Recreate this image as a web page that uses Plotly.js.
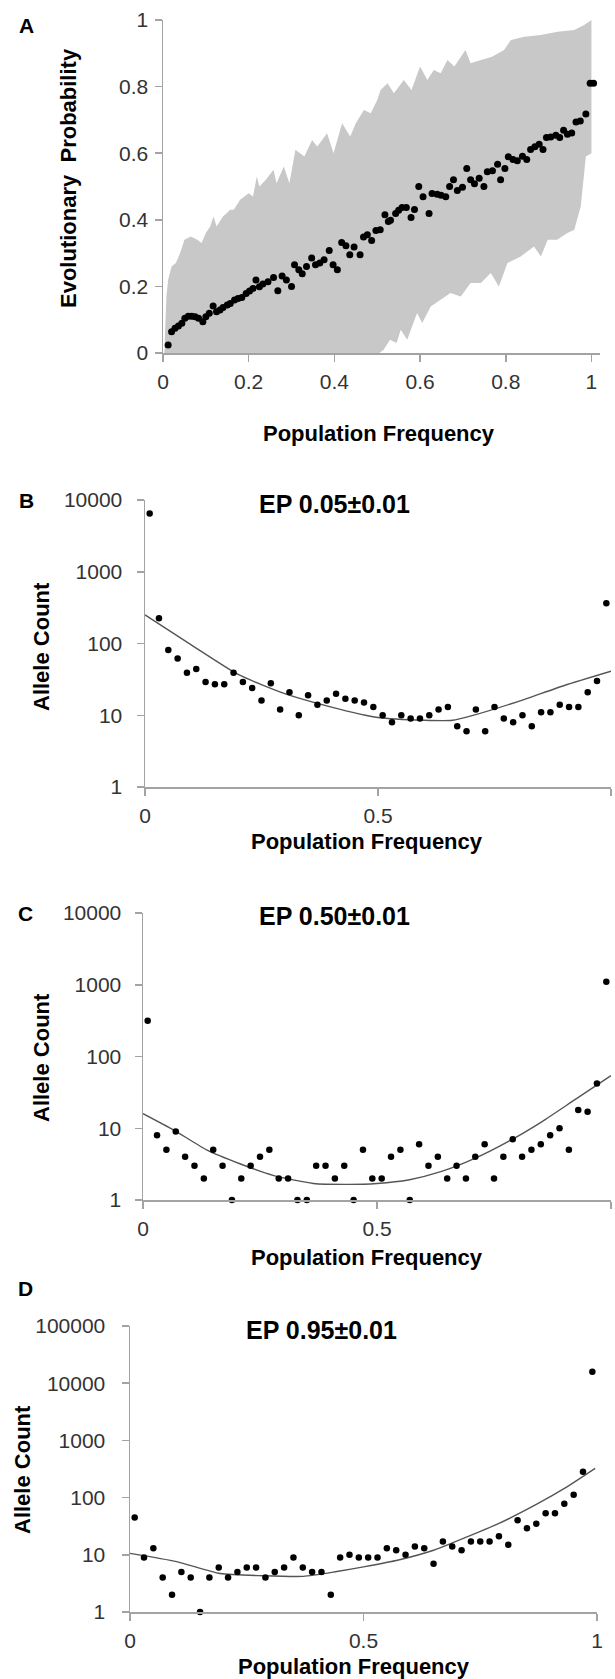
<!DOCTYPE html>
<html>
<head>
<meta charset="utf-8">
<script src="https://cdn.plot.ly/plotly-3.0.1.min.js"></script>
<style>html,body{margin:0;padding:0;background:#fff;}#chart{width:615px;height:1679px;}</style>
</head>
<body>
<div id="chart"></div>
<script>
// ---------- Panel A data ----------
const FREQ_A = [0.012,0.02,0.028,0.036,0.044,0.051,0.059,0.067,0.075,0.083,0.093,0.1,0.108,0.117,0.125,0.133,0.14,0.15,0.157,0.167,0.175,0.184,0.194,0.202,0.21,0.217,0.225,0.233,0.245,0.258,0.268,0.278,0.288,0.3,0.307,0.317,0.325,0.335,0.347,0.356,0.366,0.376,0.388,0.397,0.407,0.417,0.427,0.436,0.446,0.46,0.468,0.477,0.487,0.497,0.507,0.518,0.526,0.531,0.543,0.55,0.558,0.568,0.579,0.587,0.597,0.607,0.621,0.628,0.64,0.649,0.66,0.669,0.678,0.687,0.699,0.709,0.718,0.727,0.738,0.749,0.757,0.769,0.781,0.788,0.798,0.806,0.817,0.827,0.839,0.849,0.858,0.868,0.878,0.887,0.895,0.905,0.917,0.926,0.935,0.944,0.954,0.964,0.974,0.987,0.997,1.005];
const EP_A = [0.024,0.064,0.074,0.081,0.089,0.104,0.11,0.11,0.109,0.104,0.094,0.109,0.119,0.141,0.124,0.129,0.137,0.144,0.149,0.159,0.164,0.167,0.179,0.186,0.194,0.219,0.199,0.207,0.214,0.227,0.187,0.231,0.219,0.2,0.265,0.25,0.238,0.26,0.285,0.265,0.27,0.28,0.308,0.265,0.25,0.332,0.322,0.295,0.318,0.295,0.348,0.355,0.338,0.368,0.37,0.415,0.395,0.399,0.419,0.429,0.437,0.437,0.407,0.431,0.5,0.469,0.419,0.479,0.477,0.474,0.469,0.5,0.52,0.488,0.498,0.554,0.52,0.508,0.525,0.5,0.544,0.547,0.567,0.52,0.554,0.589,0.581,0.577,0.591,0.581,0.611,0.619,0.627,0.611,0.647,0.649,0.654,0.647,0.669,0.657,0.661,0.694,0.697,0.718,0.81,0.81];
const BAND_UP_X = [0.003,0.008,0.012,0.02,0.03,0.04,0.05,0.065,0.08,0.09,0.1,0.11,0.118,0.125,0.14,0.157,0.165,0.18,0.2,0.21,0.219,0.225,0.24,0.258,0.265,0.282,0.295,0.309,0.33,0.348,0.36,0.383,0.398,0.418,0.437,0.45,0.469,0.485,0.5,0.508,0.524,0.539,0.562,0.58,0.6,0.617,0.632,0.648,0.664,0.68,0.706,0.718,0.742,0.768,0.796,0.812,0.843,0.882,0.921,0.96,0.983,1.0];
const BAND_UP_Y = [0.0,0.17,0.22,0.26,0.27,0.3,0.34,0.35,0.34,0.33,0.36,0.38,0.41,0.38,0.41,0.43,0.43,0.46,0.48,0.47,0.53,0.5,0.52,0.55,0.51,0.56,0.51,0.61,0.59,0.64,0.62,0.66,0.6,0.69,0.65,0.69,0.73,0.72,0.76,0.79,0.81,0.78,0.82,0.79,0.86,0.82,0.85,0.84,0.88,0.86,0.91,0.87,0.88,0.89,0.91,0.94,0.95,0.955,0.965,0.97,0.985,1.0];
const BAND_LO_X = [1.0,1.0,0.987,0.975,0.96,0.944,0.92,0.898,0.882,0.866,0.835,0.804,0.784,0.765,0.742,0.718,0.695,0.671,0.648,0.625,0.605,0.593,0.57,0.555,0.545,0.53,0.515,0.505,0.003];
const BAND_LO_Y = [1.0,0.6,0.59,0.44,0.37,0.36,0.34,0.34,0.29,0.32,0.29,0.27,0.2,0.24,0.21,0.21,0.17,0.18,0.16,0.14,0.09,0.12,0.04,0.07,0.03,0.04,0.01,0.0,0.0];

// ---------- Panels B-D data ----------
const FREQ_BINS = [0.01,0.03,0.05,0.07,0.09,0.11,0.13,0.15,0.17,0.19,0.21,0.23,0.25,0.27,0.29,0.31,0.33,0.35,0.37,0.39,0.41,0.43,0.45,0.47,0.49,0.51,0.53,0.55,0.57,0.59,0.61,0.63,0.65,0.67,0.69,0.71,0.73,0.75,0.77,0.79,0.81,0.83,0.85,0.87,0.89,0.91,0.93,0.95,0.97,0.99];
const COUNT_B = [6500,224,81,62,39,44,29,27,27,39,29,24,16,28,12,21,10,19,14,16,20,17,16,15,13,10,8,10,9,9,10,12,13,7,6,12,6,13,9,8,10,7,11,11,14,13,13,21,30,363];
const COUNT_C = [316,8,5,9,4,3,2,5,3,1,2,3,4,5,2,2,1,1,3,3,2,3,1,5,2,2,4,5,1,6,3,4,2,3,2,4,6,2,4,7,4,5,6,8,10,5,18,17,42,1100];
const COUNT_D = [45,9,13,4,2,5,4,1,4,6,4,5,6,6,4,5,6,9,6,5,5,2,9,10,9,9,9,13,12,10,14,13,7,17,14,12,17,17,17,21,15,40,29,35,53,53,78,112,283,15800];

const FIT_B_X = [0,0.1,0.2,0.3,0.4,0.5,0.6,0.66,0.7,0.8,0.9,1.0];
const FIT_B_Y = [250,95,37,20,13,9.3,8.5,8.5,9.8,15.5,26,41];
const FIT_C_X = [0,0.065,0.136,0.207,0.278,0.364,0.44,0.5,0.567,0.638,0.709,0.78,0.852,0.923,1.0];
const FIT_C_Y = [16,9.5,5,3.2,2.2,1.7,1.65,1.7,1.9,2.5,3.8,6.5,12.3,25,54];
const FIT_D_X = [0,0.1,0.193,0.285,0.371,0.443,0.503,0.575,0.65,0.689,0.789,0.874,0.931,0.996];
const FIT_D_Y = [10.6,7.6,4.7,4.3,4.2,5.1,6.2,8.1,12,16,35,79,146,325];

const TITLES = ["EP 0.05\u00b10.01","EP 0.50\u00b10.01","EP 0.95\u00b10.01"];

// ---------- layout helpers ----------
const W = 615, H = 1679;
const fx = p => p / W;
const fy = p => 1 - p / H;
const FONT = "Liberation Sans, Arial, sans-serif";
const AXC = "#a3a3a3";
const TICKC = "#333333";

function xax(l, r, range, tv, tt, anchor) {
  return {domain:[fx(l), fx(r)], range:range, anchor:anchor, showline:true, linecolor:AXC, linewidth:1.5,
    ticks:"outside", ticklen:7, tickcolor:AXC, tickwidth:1.5, showgrid:false, zeroline:false,
    ticklabelstandoff:2,
    tickvals:tv, ticktext:tt, tickfont:{family:FONT, size:21, color:TICKC}, fixedrange:true};
}
function yax(t, b, range, tv, tt, anchor, type, standoff) {
  const o = {domain:[fy(b), fy(t)], range:range, anchor:anchor, showline:true, linecolor:AXC, linewidth:1.5,
    ticks:"outside", ticklen:7, tickcolor:AXC, tickwidth:1.5, showgrid:false, zeroline:false,
    ticklabelstandoff:standoff,
    tickvals:tv, ticktext:tt, tickfont:{family:FONT, size:21, color:TICKC}, fixedrange:true};
  if (type) o.type = type;
  return o;
}

const traces = [];
// Panel A band
traces.push({x: BAND_UP_X.concat(BAND_LO_X), y: BAND_UP_Y.concat(BAND_LO_Y), xaxis:"x", yaxis:"y",
  mode:"lines", fill:"toself", fillcolor:"#c8c8c8", line:{width:0, color:"#c8c8c8"}, hoverinfo:"skip", showlegend:false});
traces.push({x: FREQ_A, y: EP_A, xaxis:"x", yaxis:"y", mode:"markers", cliponaxis:false,
  marker:{color:"#000", size:7}, showlegend:false});

const panels = [
  {ax:"2", cnt:COUNT_B, fx:FIT_B_X, fy:FIT_B_Y},
  {ax:"3", cnt:COUNT_C, fx:FIT_C_X, fy:FIT_C_Y},
  {ax:"4", cnt:COUNT_D, fx:FIT_D_X, fy:FIT_D_Y}
];
panels.forEach(p => {
  traces.push({x:p.fx, y:p.fy, xaxis:"x"+p.ax, yaxis:"y"+p.ax, mode:"lines",
    line:{color:"#555555", width:1.4, shape:"spline", smoothing:0.6}, showlegend:false, hoverinfo:"skip"});
  traces.push({x:FREQ_BINS, y:p.cnt, xaxis:"x"+p.ax, yaxis:"y"+p.ax, mode:"markers", cliponaxis:false,
    marker:{color:"#000", size:6.5}, showlegend:false});
});

const lg4 = [1,10,100,1000,10000];
const lg5 = [1,10,100,1000,10000,100000];
const layout = {
  width:W, height:H, margin:{l:0,r:0,t:0,b:0}, paper_bgcolor:"#fff", plot_bgcolor:"#fff",
  showlegend:false, font:{family:FONT, color:"#000"},
  xaxis:  xax(163, 600, [0,1.02], [0,0.2,0.4,0.6,0.8,1], ["0","0.2","0.4","0.6","0.8","1"], "y"),
  yaxis:  yax(20, 353, [0,1], [0,0.2,0.4,0.6,0.8,1], ["0","0.2","0.4","0.6","0.8","1"], "x", null, 2),
  xaxis2: xax(145, 611, [0,1], [0,0.5,1], ["0","0.5","1"], "y2"),
  yaxis2: yax(500, 787, [0,4], lg4, lg4.map(String), "x2", "log", 10),
  xaxis3: xax(143, 611, [0,1], [0,0.5,1], ["0","0.5","1"], "y3"),
  yaxis3: yax(913, 1200, [0,4], lg4, lg4.map(String), "x3", "log", 9),
  xaxis4: xax(130, 597, [0,1], [0,0.5,1], ["0","0.5","1"], "y4"),
  yaxis4: yax(1326, 1612, [0,5], lg5, lg5.map(String), "x4", "log", 12),
  annotations: []
};

function ann(text, x, y, size, bold, rot) {
  layout.annotations.push({text: bold ? "<b>"+text+"</b>" : text, xref:"paper", yref:"paper",
    x:fx(x), y:fy(y), xanchor:"center", yanchor:"middle", showarrow:false, textangle: rot||0,
    font:{family:FONT, size:size, color:"#000"}});
}
// panel letters
ann("A", 26, 26, 21, true); ann("B", 26, 501, 21, true); ann("C", 25, 913, 21, true); ann("D", 25, 1288, 21, true);
// panel titles
ann(TITLES[0], 334, 504, 25, true); ann(TITLES[1], 334, 916, 25, true); ann(TITLES[2], 321, 1330, 25, true);
// axis titles
ann("Population Frequency", 379, 433, 22, true);
ann("Population Frequency", 367, 842, 22, true);
ann("Population Frequency", 367, 1257, 22, true);
ann("Population Frequency", 354, 1666, 22, true);
ann("Evolutionary  Probability", 69, 178, 22, true, -90);
ann("Allele Count", 41, 647, 22, true, -90);
ann("Allele Count", 41, 1058, 22, true, -90);
ann("Allele Count", 22, 1470, 22, true, -90);

Plotly.newPlot("chart", traces, layout, {staticPlot:true, displayModeBar:false});
</script>
</body>
</html>
